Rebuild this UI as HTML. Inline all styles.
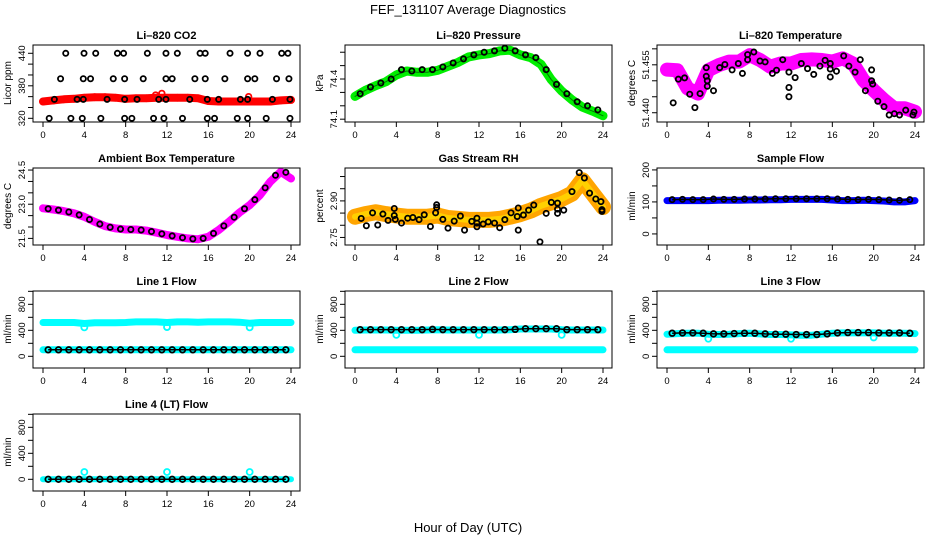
<!DOCTYPE html>
<html><head><meta charset="utf-8"><style>
html,body{margin:0;padding:0;background:#fff}
svg{display:block;font-family:"Liberation Sans",Arial,sans-serif}
</style></head><body>
<svg id="chart" width="936" height="540" viewBox="0 0 936 540" xmlns="http://www.w3.org/2000/svg">
<rect width="936" height="540" fill="#fff"/>
<text x="468" y="14" text-anchor="middle" font-size="13">FEF_131107  Average Diagnostics</text>
<text x="468" y="532" text-anchor="middle" font-size="13">Hour of Day (UTC)</text>
</svg>
<script>
const hours=[0,1,2,3,4,5,6,7,8,9,10,11,12,13,14,15,16,17,18,19,20,21,22,23,24];
const halfHours=[0.5,1.5,2.5,3.5,4.5,5.5,6.5,7.5,8.5,9.5,10.5,11.5,12.5,13.5,14.5,15.5,16.5,17.5,18.5,19.5,20.5,21.5,22.5,23.5];
const xTicks=[0,4,8,12,16,20,24];

const co2Red=[351,353,355,356,358,359,359,358,356,357,357,358,358,358,358,357,352,351,351,351,351,351,351,353,354];
const co2BlackHours=[2.2,3.97,5.1,7.2,7.8,10.1,11.9,13.0,15.2,15.7,18.1,19.8,21.0,23.1,23.7,1.7,3.9,4.6,6.8,7.9,9.7,11.9,12.5,14.7,15.7,17.6,19.8,20.5,22.6,23.8,1.1,3.3,3.9,6.2,7.9,9.1,11.2,11.9,14.2,15.9,17.0,19.1,19.8,22.2,23.9,0.6,2.7,3.8,5.6,7.9,8.6,10.7,11.7,13.5,15.9,16.6,18.8,19.8,21.6,23.9];
const co2BlackVals=[440,440,440,440,440,440,440,440,440,440,440,440,440,440,440,393,393,393,393,393,393,393,393,393,393,393,393,393,393,393,355,355,355,355,355,355,355,355,355,355,355,355,355,355,355,320,320,320,320,320,320,320,320,320,320,320,320,320,320,320];
const co2OutHours=[11.5,19.9,10.9];
const co2OutVals=[366,360,363];

const presGreen=[74.27,74.315,74.35,74.38,74.43,74.46,74.45,74.45,74.465,74.495,74.525,74.565,74.58,74.59,74.61,74.615,74.58,74.56,74.51,74.395,74.31,74.245,74.19,74.16,74.125];
const presBlack=[74.29,74.34,74.37,74.4,74.47,74.46,74.47,74.47,74.49,74.52,74.55,74.58,74.6,74.61,74.63,74.61,74.58,74.56,74.47,74.36,74.29,74.23,74.2,74.17];

const tempMag=[51.4535,51.4533,51.4476,51.446,51.4533,51.4549,51.456,51.456,51.458,51.4565,51.4544,51.4554,51.4554,51.4565,51.4567,51.4565,51.456,51.457,51.4554,51.4502,51.447,51.444,51.4414,51.4414,51.4403];
const tempBlackHours=[0.6,1.1,1.7,2.2,2.7,3.2,3.8,3.8,3.9,3.9,4.5,5.1,5.6,6.3,6.9,7.3,7.8,7.8,8.4,9.0,9.5,10.2,10.6,11.2,11.8,11.8,11.8,12.4,13.0,13.6,14.2,14.8,15.3,15.8,15.8,15.8,16.4,17.1,17.6,18.2,18.7,19.2,19.8,19.8,19.9,20.4,21.0,21.5,22.0,22.5,23.1,23.8,23.9];
const tempBlackVals=[51.4431,51.4505,51.4509,51.4458,51.4416,51.4460,51.4541,51.4514,51.4500,51.4483,51.4469,51.4541,51.4551,51.4534,51.4554,51.4523,51.4582,51.4566,51.4590,51.4562,51.4559,51.4523,51.4533,51.4566,51.4527,51.4479,51.4450,51.4510,51.4554,51.4538,51.4520,51.4546,51.4564,51.4554,51.4537,51.4512,51.4530,51.4578,51.4546,51.4527,51.4566,51.4469,51.4500,51.4534,51.4490,51.4436,51.4419,51.4393,51.4397,51.4393,51.4408,51.4393,51.4402];

const ambMag=[22.82,22.77,22.70,22.60,22.45,22.23,22.04,21.94,21.89,21.89,21.84,21.75,21.65,21.57,21.50,21.46,21.57,21.87,22.23,22.63,22.96,23.40,23.99,24.42,24.13];
const ambBlack=[22.80,22.74,22.66,22.53,22.33,22.13,21.99,21.91,21.89,21.87,21.80,21.70,21.61,21.53,21.48,21.50,21.72,22.05,22.43,22.80,23.20,23.72,24.27,24.40];

const rhOrange=[2.835,2.846,2.853,2.846,2.84,2.835,2.835,2.835,2.84,2.83,2.826,2.822,2.822,2.822,2.826,2.835,2.846,2.86,2.88,2.894,2.908,2.93,2.985,2.93,2.875];
const rhBlackHours=[0.6,1.1,1.7,2.2,2.7,3.2,3.8,3.8,3.9,4.5,5.1,5.6,6.2,6.7,7.3,7.8,7.9,7.9,8.5,9.0,9.6,10.2,10.6,11.3,11.8,11.8,11.8,12.4,12.9,13.5,14.0,14.5,15.1,15.7,15.8,15.8,16.3,16.8,17.3,17.9,18.5,19.0,19.6,19.6,19.6,20.2,21.0,21.7,22.2,22.7,23.3,23.8,23.9,23.9];
const rhBlackVals=[2.828,2.798,2.851,2.801,2.846,2.820,2.869,2.840,2.824,2.809,2.829,2.832,2.823,2.843,2.795,2.851,2.884,2.873,2.824,2.788,2.817,2.838,2.780,2.816,2.829,2.809,2.794,2.805,2.814,2.809,2.790,2.823,2.851,2.836,2.871,2.780,2.842,2.862,2.883,2.732,2.849,2.894,2.849,2.866,2.891,2.862,2.938,3.016,2.994,2.932,2.908,2.897,2.857,2.864];

const sampleBlue=[104,104,104,104,104,105,105,105,106,106,107,107,108,108,108,108,106,104,104,105,104,103,100,100,104];
const sampleBlack=[107,108,107,107,109,108,108,109,109,109,110,110,110,110,110,110,109,108,107,108,107,106,105,107];

const l1CyanHigh=[520,520,520,520,505,515,515,515,520,530,530,530,520,530,530,525,530,530,530,525,510,520,520,520,520];
const l1CyanLow=[100,100,100,100,100,100,100,100,100,100,100,100,100,100,100,100,100,100,100,100,100,100,100,100,100];
const l1Black=[100,100,100,100,100,100,100,100,100,100,100,100,100,100,100,100,100,100,100,100,100,100,100,100];
const l1DipHours=[4,12,20];
const l1DipVals=[445,450,445];

const l2CyanHigh=[400,405,405,405,400,400,400,405,410,405,405,405,405,405,405,410,420,420,420,420,410,405,405,405,405];
const l2CyanLow=[100,100,100,100,100,100,100,100,100,100,100,100,100,100,100,100,100,100,100,100,100,100,100,100,100];
const l2Black=[410,410,410,410,410,410,410,415,410,410,410,410,410,410,410,415,425,425,425,425,410,410,410,410];
const l2DipHours=[4,12,20];
const l2DipVals=[330,330,330];

const l3CyanHigh=[340,350,355,355,340,335,340,350,355,345,335,335,330,325,325,340,355,360,360,360,360,355,355,355,350];
const l3CyanLow=[100,100,100,100,100,100,100,100,100,100,100,100,100,100,100,100,100,100,100,100,100,100,100,100,100];
const l3Black=[355,360,360,355,345,345,350,355,355,345,340,340,335,335,335,345,360,365,365,365,360,360,360,355];
const l3DipHours=[4,12,20];
const l3DipVals=[270,270,290];

const l4Cyan=[0,0,0,0,0,0,0,0,0,0,0,0,0,0,0,0,0,0,0,0,0,0,0,0,0];
const l4Black=[0,0,0,0,0,0,0,0,0,0,0,0,0,0,0,0,0,0,0,0,0,0,0,0];
const l4SpikeHours=[4,12,20];
const l4SpikeVals=[112,112,112];

const svg=document.getElementById('chart');
const NS='http://www.w3.org/2000/svg';
function mk(tag,attrs,parent){const e=document.createElementNS(NS,tag);for(const k in attrs)e.setAttribute(k,attrs[k]);(parent||svg).appendChild(e);return e;}
const rowTops=[45,168,291,414];

function panel(col,row,name,title,ylab,ymin,ymax,yticks,ylabels){
  const g=mk('g',{});
  
  
  const x0=33+col*312,x1=300+col*312,top=rowTops[row],bot=top+77;
  const xs=h=>43+col*312+h*248/24;
  const ys=v=>top+(ymax-v)/(ymax-ymin)*77;
  const t=mk('text',{x:(x0+x1)/2,y:top-6,'text-anchor':'middle','font-size':11,'font-weight':'bold'},g);
  t.textContent=title;
  
  
  const plot=mk('g',{},g);
  
  
  const box=mk('rect',{x:x0,y:top,width:x1-x0,height:77,fill:'none',stroke:'#000','stroke-width':1},g);
  
  
  const xa=mk('g',{},g);
  
  
  mk('line',{x1:xs(0),x2:xs(24),y1:bot,y2:bot,stroke:'#000'},xa);
  xTicks.forEach(h=>{
    mk('line',{x1:xs(h),x2:xs(h),y1:bot,y2:bot+5,stroke:'#000'},xa);
    const l=mk('text',{x:xs(h),y:bot+16,'text-anchor':'middle','font-size':9.5},xa);
    l.textContent=h;
    
    
  });
  const ya=mk('g',{},g);
  
  
  mk('line',{x1:x0,x2:x0,y1:ys(yticks[0]),y2:ys(yticks[yticks.length-1]),stroke:'#000'},ya);
  yticks.forEach(v=>{mk('line',{x1:x0-5,x2:x0,y1:ys(v),y2:ys(v),stroke:'#000'},ya);});
  ylabels.forEach(lb=>{
    const yy=ys(lb[0]);
    const l=mk('text',{x:0,y:0,'text-anchor':'middle','font-size':9.5,transform:`translate(${x0-8},${yy}) rotate(-90)`},ya);
    l.textContent=lb[1];
    
    
  });
  const yl=mk('text',{x:0,y:0,'text-anchor':'middle','font-size':10,transform:`translate(${x0-22},${top+38}) rotate(-90)`},ya);
  yl.textContent=ylab;
  
  
  return {plot,xs,ys};
}
function band(p,hs,vs,color,w,name){
  const pts=hs.map((h,i)=>p.xs(h).toFixed(1)+','+p.ys(vs[i]).toFixed(1)).join(' ');
  const pl=mk('polyline',{points:pts,fill:'none',stroke:color,'stroke-width':w,'stroke-linejoin':'round','stroke-linecap':'round'},p.plot);
  
  
}
function dots(p,hs,vs,color,r,name,line){
  const g=mk('g',{},p.plot);
  
  
  if(line){
    mk('polyline',{points:hs.map((h,i)=>p.xs(h)+','+p.ys(vs[i])).join(' '),fill:'none',stroke:color,'stroke-width':1.5},g);
  }
  hs.forEach((h,i)=>{
    const c=mk('circle',{cx:p.xs(h),cy:p.ys(vs[i]),r:r,fill:'none',stroke:color,'stroke-width':1.8},g);
    
    
  });
}
const flowTicks=[0,200,400,600,800,1000];
const flowLabels=[[0,'0'],[400,'400'],[800,'800']];

let p=panel(0,0,'panel-co2','Li\u2013820 CO2','Licor ppm',313.2,455.3,[320,340,360,380,400,420,440],[[320,'320'],[380,'380'],[440,'440']]);
band(p,hours,co2Red,'#ff0000',8,'co2-red-series');
dots(p,hours,co2Red,'#ff0000',3,'co2-red-points');
dots(p,co2OutHours,co2OutVals,'#ff0000',2.8,'co2-red-outliers');
dots(p,co2BlackHours,co2BlackVals,'#000',2.6,'co2-black-points');

p=panel(1,0,'panel-pressure','Li\u2013820 Pressure','kPa',74.079,74.654,[74.1,74.2,74.3,74.4,74.5,74.6],[[74.1,'74.1'],[74.4,'74.4']]);
band(p,hours,presGreen,'#00ee00',9,'pressure-green-series');
band(p,hours,presGreen,'#007700',1,'pressure-green-core');
dots(p,halfHours,presBlack,'#000',2.6,'pressure-black-points');

p=panel(2,0,'panel-temperature','Li\u2013820 Temperature','degrees C',51.4371,51.4612,[51.440,51.445,51.450,51.455,51.460],[[51.440,'51.440'],[51.455,'51.455']]);
band(p,hours,tempMag,'#ff00ff',14,'temperature-magenta-series');
dots(p,tempBlackHours,tempBlackVals,'#000',2.6,'temperature-black-points');

p=panel(0,1,'panel-ambient','Ambient Box Temperature','degrees C',21.21,24.59,[21.5,22.0,22.5,23.0,23.5,24.0,24.5],[[21.5,'21.5'],[23.0,'23.0'],[24.5,'24.5']]);
band(p,hours,ambMag,'#ff00ff',8,'ambient-magenta-series');
dots(p,halfHours,ambBlack,'#000',2.6,'ambient-black-points');

p=panel(1,1,'panel-rh','Gas Stream RH','percent',2.719,3.035,[2.75,2.80,2.85,2.90,2.95,3.00],[[2.75,'2.75'],[2.90,'2.90']]);
band(p,hours,rhOrange,'#ffa500',16,'rh-orange-series');
band(p,hours,rhOrange,'#ffd000',6,'rh-yellow-core');
dots(p,rhBlackHours,rhBlackVals,'#000',2.6,'rh-black-points');

p=panel(2,1,'panel-sample-flow','Sample Flow','ml/min',-34.6,206,[0,50,100,150,200],[[0,'0'],[100,'100'],[200,'200']]);
band(p,hours,sampleBlue,'#0000ff',7,'sample-blue-series');
dots(p,halfHours,sampleBlack,'#000',2.6,'sample-black-points',true);

p=panel(0,2,'panel-line1','Line 1 Flow','ml/min',-180,1005,flowTicks,flowLabels);
band(p,hours,l1CyanHigh,'#00ffff',7,'line1-cyan-high');
band(p,hours,l1CyanLow,'#00ffff',7,'line1-cyan-low');
dots(p,l1DipHours,l1DipVals,'#00ffff',3,'line1-cyan-dips');
dots(p,halfHours,l1Black,'#000',2.8,'line1-black-points',true);

p=panel(1,2,'panel-line2','Line 2 Flow','ml/min',-180,1005,flowTicks,flowLabels);
band(p,hours,l2CyanHigh,'#00ffff',7,'line2-cyan-high');
band(p,hours,l2CyanLow,'#00ffff',7,'line2-cyan-low');
dots(p,l2DipHours,l2DipVals,'#00ffff',3,'line2-cyan-dips');
dots(p,halfHours,l2Black,'#000',2.8,'line2-black-points',true);

p=panel(2,2,'panel-line3','Line 3 Flow','ml/min',-180,1005,flowTicks,flowLabels);
band(p,hours,l3CyanHigh,'#00ffff',7,'line3-cyan-high');
band(p,hours,l3CyanLow,'#00ffff',7,'line3-cyan-low');
dots(p,l3DipHours,l3DipVals,'#00ffff',3,'line3-cyan-dips');
dots(p,halfHours,l3Black,'#000',2.8,'line3-black-points',true);

p=panel(0,3,'panel-line4','Line 4 (LT) Flow','ml/min',-180,1005,flowTicks,flowLabels);
band(p,hours,l4Cyan,'#00ffff',6,'line4-cyan-series');
dots(p,l4SpikeHours,l4SpikeVals,'#00ffff',3,'line4-cyan-spikes');
dots(p,halfHours,l4Black,'#000',2.8,'line4-black-points',true);
</script>
</body></html>
